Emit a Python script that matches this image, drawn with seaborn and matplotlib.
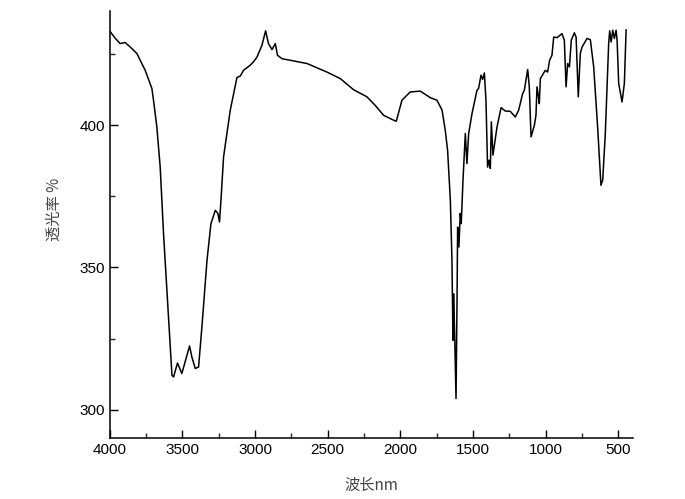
import matplotlib
matplotlib.use("Agg")
import matplotlib.pyplot as plt
from matplotlib.ticker import MultipleLocator
import seaborn as sns
import pandas as pd

# IR spectrum
wavenumber = [
    4000, 3960, 3927, 3893, 3858, 3812, 3755, 3709, 3698, 3675, 3652, 3629,
    3602, 3571, 3560, 3533, 3503, 3468, 3450, 3434, 3411, 3388, 3365, 3330,
    3303, 3273, 3255, 3244, 3234, 3216, 3193, 3170, 3147, 3124, 3101, 3079,
    3033, 3010, 2986, 2952, 2927, 2907, 2883, 2860, 2845, 2814, 2642, 2505,
    2413, 2322, 2230, 2173, 2115, 2047, 2028, 1989, 1932, 1863, 1794, 1748,
    1713, 1691, 1675, 1656, 1645, 1638, 1634, 1627, 1617, 1610, 1606, 1597,
    1588, 1581, 1569, 1553, 1542, 1530, 1507, 1473, 1462, 1445, 1434, 1422,
    1411, 1400, 1390, 1381, 1374, 1363, 1335, 1307, 1278, 1244, 1209, 1186,
    1159, 1147, 1124, 1113, 1101, 1078, 1067, 1060, 1051, 1044, 1037, 1003,
    987, 973, 957, 945, 922, 888, 872, 860, 849, 837, 824, 803,
    791, 776, 762, 750, 716, 693, 670, 643, 620, 608, 590, 567,
    560, 550, 539, 528, 516, 509, 498, 475, 459, 447,
]
transmittance = [
    433.2, 430.5, 428.7, 429.1, 427.5, 425.2, 419.3, 412.9, 408.8, 399.4, 385.3, 361.9,
    338.5, 312.1, 311.5, 316.4, 312.7, 319.1, 322.4, 318.5, 314.5, 315.0, 329.1, 352.5,
    365.4, 370.1, 369.0, 366.0, 373.6, 388.9, 397.1, 405.3, 411.1, 416.8, 417.3, 419.3,
    421.1, 422.3, 424.0, 428.1, 433.2, 428.7, 426.6, 428.7, 424.6, 423.4, 421.7, 418.7,
    416.4, 412.5, 410.0, 407.0, 403.5, 401.8, 401.4, 408.8, 411.7, 412.0, 409.7, 408.8,
    405.3, 398.2, 391.2, 373.6, 352.5, 324.4, 340.8, 327.9, 303.9, 338.5, 364.2, 357.2,
    369.0, 365.4, 380.7, 397.1, 386.5, 397.1, 404.1, 412.3, 412.9, 417.6, 416.1, 418.4,
    408.8, 385.3, 387.7, 384.8, 401.2, 389.5, 399.4, 406.2, 405.0, 404.9, 402.9, 405.3,
    411.1, 412.3, 419.6, 413.5, 395.9, 400.0, 403.5, 413.5, 410.5, 407.6, 416.4, 419.3,
    418.7, 422.9, 424.6, 431.0, 430.8, 432.2, 429.9, 413.5, 421.7, 420.5, 429.9, 432.5,
    431.0, 410.0, 425.2, 427.5, 430.5, 430.1, 420.5, 399.4, 378.9, 380.7, 397.1, 428.7,
    433.2, 429.3, 433.4, 430.5, 433.4, 429.9, 414.7, 408.2, 414.7, 433.6,
]

df = pd.DataFrame({"wavenumber": wavenumber, "transmittance": transmittance})

sns.set_style("white")
plt.rcParams["font.family"] = ["Liberation Sans", "Noto Sans CJK SC", "DejaVu Sans"]

fig = plt.figure(figsize=(6.85, 4.99), dpi=100)
ax = fig.add_axes([0.160, 0.122, 0.764, 0.855])

sns.lineplot(data=df, x="wavenumber", y="transmittance", sort=False,
             color="black", linewidth=1.1, ax=ax)

ax.set_xlim(4000, 400)
ax.set_ylim(290, 440)
ax.xaxis.set_major_locator(MultipleLocator(500))
ax.xaxis.set_minor_locator(MultipleLocator(250))
ax.set_yticks([300, 350, 400])
ax.yaxis.set_minor_locator(MultipleLocator(25))
ax.tick_params(which="major", direction="in", length=6, width=1, labelsize=11,
               colors="black")
ax.tick_params(which="minor", direction="in", length=3.5, width=1)
ax.tick_params(axis="x", which="both", bottom=True)
ax.tick_params(axis="y", which="both", left=True)

sns.despine(ax=ax)
for side in ["left", "bottom"]:
    ax.spines[side].set_color("black")
    ax.spines[side].set_linewidth(1.1)

ax.set_xlabel("波长nm", fontsize=11, color="#444444",
              family=["Noto Sans CJK SC", "DejaVu Sans"])
ax.set_ylabel("透光率 %", fontsize=11, color="#444444",
              family=["Noto Sans CJK SC", "DejaVu Sans"])
ax.yaxis.set_label_coords(-0.09, 0.535)
ax.xaxis.set_label_coords(0.5, -0.09)

plt.savefig("out.png", dpi=100)
plt.close()
